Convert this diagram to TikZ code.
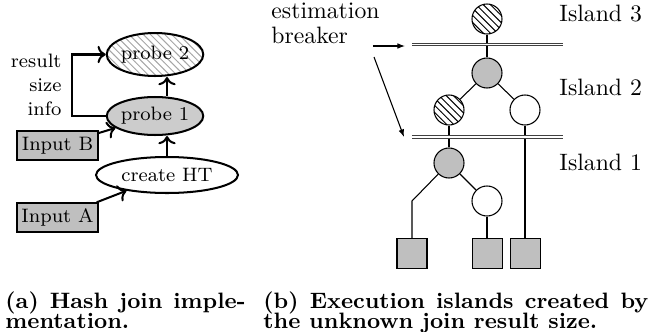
\documentclass[tikz,border=0pt]{standalone}
\usepackage{fontspec}
\usetikzlibrary{shapes.geometric,patterns,arrows.meta}
\tikzset{
  lsmall/.style={font=\fontsize{8.2}{10}\selectfont},
  rtext/.style={font=\fontsize{10}{12}\selectfont, inner sep=0pt},
  captext/.style={font=\fontsize{9.4}{11}\selectfont\bfseries, inner sep=0pt},
  ellnode/.style={ellipse, draw, line width=0.85pt, inner sep=0pt, lsmall},
  inbox/.style={rectangle, draw, line width=0.6pt, fill=gray!50, minimum width=34.17pt, minimum height=12.24pt, inner sep=0pt, lsmall},
  larrow/.style={line width=0.85pt, ->},
  opnode/.style={circle, draw, line width=0.45pt, minimum size=12.66pt, inner sep=0pt},
  grayop/.style={opnode, fill=gray!50},
  hatchop/.style={opnode, pattern=north west lines},
  leafbox/.style={rectangle, draw, line width=0.45pt, fill=gray!50, minimum size=12.66pt, inner sep=0pt},
  edge/.style={line width=0.45pt},
  bar/.style={draw=black!75, line width=0.45pt, double=white, double distance=0.75pt},
  rarrow/.style={line width=0.45pt, -{Latex[length=3.2pt,width=2.4pt]}}
}
\begin{document}
\begin{tikzpicture}[x=0.4219pt, y=-0.4219pt]
\useasboundingbox (0,0) rectangle (657,332);
% ---------- (a) ----------
\node[ellnode, pattern=north west lines, pattern color=gray!70, minimum width=37.97pt, minimum height=18.14pt] (probe2) at (155,54.5) {probe 2};
\node[ellnode, fill=gray!40, minimum width=37.55pt, minimum height=16.03pt] (probe1) at (155,116) {probe 1};
\node[ellnode, minimum width=59.9pt, minimum height=15.19pt] (create) at (167,175) {create HT};
\node[inbox] (inB) at (57.5,145.5) {Input B};
\node[inbox] (inA) at (57.5,217.5) {Input A};
\draw[larrow] (inA) -- (create);
\draw[larrow] (inB) -- (probe1);
\draw[larrow] (create.north) -- (create.north |- probe1.south);
\draw[larrow] (create.north |- probe1.north) -- (create.north |- probe2.south);
\draw[larrow] (probe1.west) -- ++(-34,0) |- (probe2.west);
\node[lsmall, inner sep=0pt, anchor=base east] (lres) at (62,67) {result};
\node[lsmall, inner sep=0pt, anchor=base east] (lsize) at (62,91) {size};
\node[lsmall, inner sep=0pt, anchor=base east] (linfo) at (62,115) {info};
% ---------- (b) ----------
\node[hatchop] (c3) at (487,19) {};
\node[grayop] (g2) at (487,73) {};
\node[hatchop] (h2) at (449,110) {};
\node[opnode] (w2) at (525,110) {};
\node[grayop] (g1) at (449,163) {};
\node[opnode] (w1) at (487,201) {};
\node[leafbox] (s1) at (412,253.5) {};
\node[leafbox] (s2) at (487.5,253.5) {};
\node[leafbox] (s3) at (525.5,253.5) {};
\coordinate (k) at (412,201);
\draw[edge] (c3) -- (g2);
\draw[edge] (g2) -- (h2);
\draw[edge] (g2) -- (w2);
\draw[edge] (h2) -- (g1);
\draw[edge] (w2) -- (w2 |- s3.north);
\draw[edge] (g1) -- (w1);
\draw[edge] (g1) -- (k) -- (s1);
\draw[edge] (w1) -- (w1 |- s2.north);
\coordinate (b1w) at (412,44.5);
\coordinate (b1e) at (563,44.5);
\coordinate (b2w) at (412,137);
\coordinate (b2e) at (563,137);
\draw[bar] (b1w) -- (b1e);
\draw[bar] (b2w) -- (b2e);
\node[rtext, anchor=base west] (est) at (271,18.3) {estimation};
\node[rtext, anchor=base west] (brk) at (271,43) {breaker};
\coordinate (ea1) at (373,46);
\coordinate (eb1) at (405,46);
\coordinate (ea2) at (374,57);
\coordinate (eb2) at (404,137);
\draw[rarrow] (ea1) -- (eb1);
\draw[rarrow] (ea2) -- (eb2);
\node[rtext, anchor=base west] (is3) at (559,21) {Island 3};
\node[rtext, anchor=base west] (is2) at (559,95) {Island 2};
\node[rtext, anchor=base west] (is1) at (559,170) {Island 1};
% ---------- captions ----------
\node[captext, anchor=base west] (capa1) at (5,308) {\makebox[101.3pt][s]{(a) Hash join imple-}};
\node[captext, anchor=base west] (capa2) at (5,328) {mentation.};
\node[captext, anchor=base west] (capb1) at (263,308) {\makebox[162.4pt][s]{(b) Execution islands created by}};
\node[captext, anchor=base west] (capb2) at (263,328) {the unknown join result size.};
\end{tikzpicture}
\end{document}
